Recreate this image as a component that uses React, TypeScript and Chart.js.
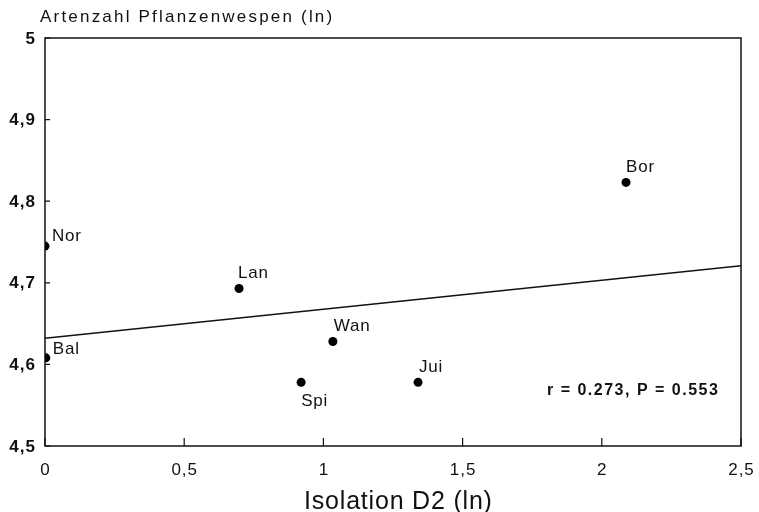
import React, { useEffect, useRef } from "react";
import { Chart, registerables } from "chart.js";

Chart.register(...registerables);

// ---- data ----
const siteLabels = ["Nor", "Bal", "Lan", "Wan", "Spi", "Jui", "Bor"];
const isolationD2 = [0, 0.003, 0.697, 1.034, 0.92, 1.34, 2.087];
const speciesLn = [4.745, 4.608, 4.693, 4.628, 4.578, 4.578, 4.823];
const fitX = [0, 2.5];
const fitY = [4.632, 4.721];
const xTickValues = [0, 0.5, 1, 1.5, 2, 2.5];
const yTickValues = [4.5, 4.6, 4.7, 4.8, 4.9, 5];
const yTitle = "Artenzahl Pflanzenwespen (ln)";
const xTitle = "Isolation D2 (ln)";
const statsText = "r = 0.273, P = 0.553";

// label placement (style only): [dx, dy]
const labelOffsets: [number, number][] = [
  [7, -10],
  [7, -9],
  [-1, -15],
  [1, -15],
  [0, 19],
  [1, -15],
  [0, -15],
];

const fmt = (v: number) => {
  const r = Math.round(v * 10) / 10;
  return String(r).replace(".", ",");
};

const FONT = "'Liberation Sans', Arial, sans-serif";

function spaced(ctx: any, text: string, x: number, y: number, spacing: number, align: "left" | "center" | "right") {
  ctx.letterSpacing = spacing + "px";
  ctx.textAlign = "left";
  const w = ctx.measureText(text).width - spacing;
  let sx = x;
  if (align === "center") sx = x - w / 2;
  else if (align === "right") sx = x - w;
  ctx.fillText(text, sx, y);
  ctx.letterSpacing = "0px";
}

const decorPlugin = {
  id: "decor",
  afterDatasetsDraw(chart: any) {
    const ctx = chart.ctx;
    const xs = chart.scales.x;
    const ys = chart.scales.y;
    ctx.save();
    ctx.fillStyle = "#111";
    ctx.font = "17px " + FONT;
    ctx.textBaseline = "middle";
    siteLabels.forEach((lab, i) => {
      const px = xs.getPixelForValue(isolationD2[i]);
      const py = ys.getPixelForValue(speciesLn[i]);
      const [dx, dy] = labelOffsets[i];
      spaced(ctx, lab, px + dx, py + dy, 0.8, "left");
    });
    ctx.restore();
  },
  afterDraw(chart: any) {
    const ctx = chart.ctx;
    const { left, right, top, bottom } = chart.chartArea;
    const xs = chart.scales.x;
    const ys = chart.scales.y;
    ctx.save();
    ctx.strokeStyle = "#111";
    ctx.lineWidth = 1.5;
    ctx.strokeRect(left, top, right - left, bottom - top);
    ctx.lineWidth = 1.2;
    ctx.beginPath();
    xTickValues.forEach((v) => {
      const px = xs.getPixelForValue(v);
      ctx.moveTo(px, bottom);
      ctx.lineTo(px, bottom - 8);
    });
    yTickValues.forEach((v) => {
      const py = ys.getPixelForValue(v);
      ctx.moveTo(left, py);
      ctx.lineTo(left + 5, py);
    });
    ctx.stroke();

    ctx.fillStyle = "#111";
    ctx.textBaseline = "middle";

    // tick labels
    ctx.font = "bold 17px " + FONT;
    yTickValues.forEach((v) => {
      const py = ys.getPixelForValue(v);
      spaced(ctx, fmt(v), left - 10, py + 1, 1, "right");
    });
    ctx.font = "17px " + FONT;
    xTickValues.forEach((v) => {
      const px = xs.getPixelForValue(v);
      spaced(ctx, fmt(v), px, bottom + 24, 1, "center");
    });

    // axis titles
    ctx.font = "17px " + FONT;
    spaced(ctx, yTitle, 40, 17, 2.2, "left");

    ctx.textBaseline = "alphabetic";
    ctx.font = "25px " + FONT;
    spaced(ctx, xTitle, (left + right) / 2 + 5, 509, 0.8, "center");

    ctx.textBaseline = "middle";
    ctx.font = "bold 16px " + FONT;
    spaced(ctx, statsText, right - 194, bottom - 55, 1.5, "left");
    ctx.restore();
  },
};

export default function App() {
  const ref = useRef<HTMLCanvasElement | null>(null);
  useEffect(() => {
    document.body.style.margin = "0";
    const pts = isolationD2.map((x, i) => ({ x, y: speciesLn[i] }));
    const line = fitX.map((x, i) => ({ x, y: fitY[i] }));
    const chart = new Chart(ref.current as HTMLCanvasElement, {
      type: "scatter",
      data: {
        datasets: [
          {
            type: "line",
            data: line,
            borderColor: "#111",
            borderWidth: 1.5,
            pointRadius: 0,
            fill: false,
          } as any,
          {
            data: pts,
            backgroundColor: "#000",
            borderWidth: 0,
            pointRadius: 4.5,
          },
        ],
      },
      options: {
        animation: false,
        responsive: false,
        events: [],
        layout: { padding: { top: 38, right: 18, left: 0, bottom: 0 } },
        plugins: { legend: { display: false }, tooltip: { enabled: false }, title: { display: false } },
        scales: {
          x: {
            type: "linear",
            min: 0,
            max: 2.5,
            grid: { display: false },
            border: { display: false },
            ticks: { display: false },
            afterBuildTicks: (s: any) => {
              s.ticks = xTickValues.map((v) => ({ value: v }));
            },
            afterFit: (s: any) => {
              s.height = 66;
              s.paddingLeft = 0;
              s.paddingRight = 0;
            },
          },
          y: {
            type: "linear",
            min: 4.5,
            max: 5,
            grid: { display: false },
            border: { display: false },
            ticks: { display: false },
            afterBuildTicks: (s: any) => {
              s.ticks = yTickValues.map((v) => ({ value: v }));
            },
            afterFit: (s: any) => {
              s.width = 45;
              s.paddingTop = 0;
              s.paddingBottom = 0;
            },
          },
        },
      },
      plugins: [decorPlugin],
    });
    return () => chart.destroy();
  }, []);
  return (
    <div style={{ position: "absolute", left: 0, top: 0, width: 759, height: 512, background: "#fff" }}>
      <canvas ref={ref} width={759} height={512} />
    </div>
  );
}
